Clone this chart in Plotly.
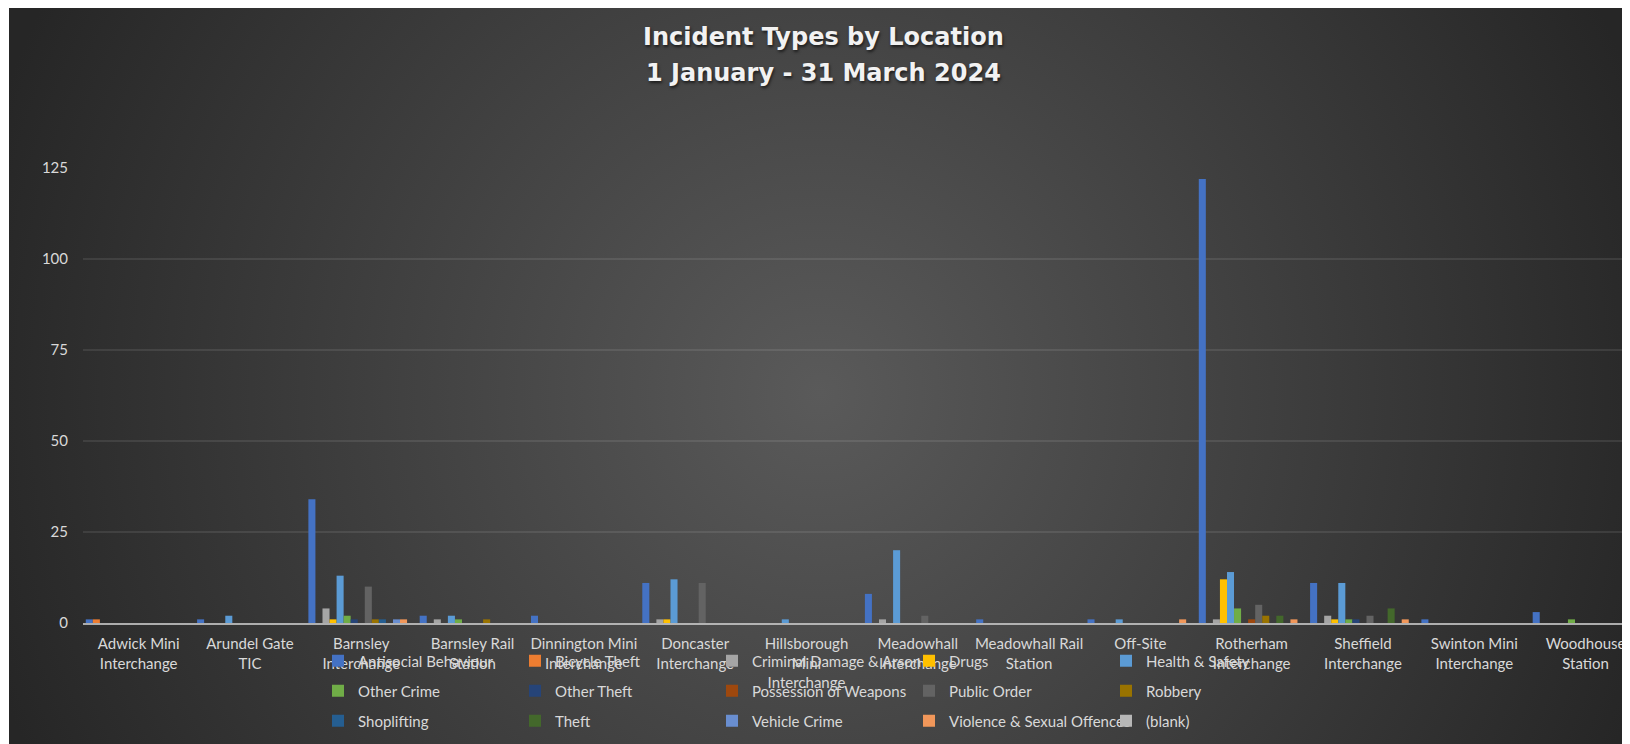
import base64
import plotly.graph_objects as go

categories = [
    "Adwick Mini Interchange", "Arundel Gate TIC", "Barnsley Interchange",
    "Barnsley Rail Station", "Dinnington Mini Interchange", "Doncaster Interchange",
    "Hillsborough Mini Interchange", "Meadowhall Interchange", "Meadowhall Rail Station",
    "Off-Site", "Rotherham Interchange", "Sheffield Interchange",
    "Swinton Mini Interchange", "Woodhouse Station",
]
tick_labels = [
    "Adwick Mini<br>Interchange", "Arundel Gate<br>TIC", "Barnsley<br>Interchange",
    "Barnsley Rail<br>Station", "Dinnington Mini<br>Interchange", "Doncaster<br>Interchange",
    "Hillsborough<br>Mini<br>Interchange", "Meadowhall<br>Interchange", "Meadowhall Rail<br>Station",
    "Off-Site", "Rotherham<br>Interchange", "Sheffield<br>Interchange",
    "Swinton Mini<br>Interchange", "Woodhouse<br>Station",
]

# values per category, in category order
antisocial_behaviour = [1, 1, 34, 2, 2, 11, 0, 8, 1, 1, 122, 11, 1, 3]
bicycle_theft        = [1, 0, 0, 0, 0, 0, 0, 0, 0, 0, 0, 0, 0, 0]
criminal_damage      = [0, 0, 4, 1, 0, 1, 0, 1, 0, 0, 1, 2, 0, 0]
drugs                = [0, 0, 1, 0, 0, 1, 0, 0, 0, 0, 12, 1, 0, 0]
health_safety        = [0, 2, 13, 2, 0, 12, 1, 20, 0, 1, 14, 11, 0, 0]
other_crime          = [0, 0, 2, 1, 0, 0, 0, 0, 0, 0, 4, 1, 0, 1]
other_theft          = [0, 0, 1, 0, 0, 0, 0, 0, 0, 0, 0, 1, 0, 0]
possession_weapons   = [0, 0, 0, 0, 0, 0, 0, 0, 0, 0, 1, 0, 0, 0]
public_order         = [0, 0, 10, 0, 0, 11, 0, 2, 0, 0, 5, 2, 0, 0]
robbery              = [0, 0, 1, 1, 0, 0, 0, 0, 0, 0, 2, 0, 0, 0]
shoplifting          = [0, 0, 1, 0, 0, 0, 0, 0, 0, 0, 0, 0, 0, 0]
theft                = [0, 0, 0, 0, 0, 0, 0, 0, 0, 0, 2, 4, 0, 0]
vehicle_crime        = [0, 0, 1, 0, 0, 0, 0, 0, 0, 0, 0, 0, 0, 0]
violence_sexual      = [0, 0, 1, 0, 0, 0, 0, 0, 0, 1, 1, 1, 0, 0]
blank                = [0, 0, 0, 0, 0, 0, 0, 0, 0, 0, 0, 0, 0, 0]

series_names = [
    "Antisocial Behaviour", "Bicycle Theft", "Criminal Damage & Arson", "Drugs",
    "Health & Safety", "Other Crime", "Other Theft", "Possession of Weapons",
    "Public Order", "Robbery", "Shoplifting", "Theft", "Vehicle Crime",
    "Violence & Sexual Offences", "(blank)",
]
series_values = [
    antisocial_behaviour, bicycle_theft, criminal_damage, drugs, health_safety,
    other_crime, other_theft, possession_weapons, public_order, robbery,
    shoplifting, theft, vehicle_crime, violence_sexual, blank,
]
series_colors = [
    "#4472C4", "#ED7D31", "#A5A5A5", "#FFC000", "#5B9BD5", "#70AD47",
    "#264478", "#9E480E", "#636363", "#997300", "#255E91", "#43682B",
    "#698ED0", "#F1975A", "#B7B7B7",
]
legend_rows = ["legend", "legend2", "legend3"]

# page has an 8px body margin; work in page pixels and convert
OFF = 8
PAGE_W, PAGE_H = 1630, 744
W, H = PAGE_W - OFF, PAGE_H - OFF
plot_left_page, plot_top_page, zero_page = 83, 168, 623
ML = plot_left_page - OFF
MT = plot_top_page - OFF
MB = H - (zero_page - OFF)
MR = 0
PW, PH = W - ML - MR, H - MT - MB
cat_w = 111.3

fig = go.Figure()
for i, (name, vals, col) in enumerate(zip(series_names, series_values, series_colors)):
    fig.add_trace(go.Bar(
        x=categories, y=vals, name=name,
        marker=dict(color=col, line=dict(width=0)),
        legend=legend_rows[i // 5],
    ))

def px(xpage):
    return (xpage - OFF - ML) / PW

def py(ypage):
    return (H - MB - (ypage - OFF)) / PH

# background gradient image (page coords: starts at x=9)
bx0_fig, by0_fig = 1, 0
bw, bh = W - bx0_fig, H - by0_fig
cxg, cyg = 820 - OFF - bx0_fig, 394 - OFF - by0_fig
svg = (
    f'<svg xmlns="http://www.w3.org/2000/svg" width="{bw}" height="{bh}" '
    f'viewBox="0 0 {bw} {bh}" preserveAspectRatio="none"><defs>'
    f'<radialGradient id="g" gradientUnits="userSpaceOnUse" cx="{cxg}" cy="{cyg}" r="870">'
    f'<stop offset="0" stop-color="#5a5a5a"/><stop offset="1" stop-color="#262626"/>'
    f'</radialGradient></defs><rect width="{bw}" height="{bh}" fill="url(#g)"/></svg>'
)
src = "data:image/svg+xml;base64," + base64.b64encode(svg.encode()).decode()

txt = "#D9D9D9"
font_main = "Lato, 'Open Sans', sans-serif"
title_font = dict(family="DejaVu Sans", size=24, color="#F2F2F2", weight="bold",
                  shadow="1px 2px 3px rgba(0,0,0,0.6)")

legend_common = dict(
    orientation="h", xanchor="left", yanchor="middle",
    x=px(318), entrywidth=152, entrywidthmode="pixels",
    bgcolor="rgba(0,0,0,0)", font=dict(family=font_main, size=15, color=txt),
    traceorder="normal",
)

fig.update_layout(
    width=W, height=H,
    margin=dict(l=ML, r=MR, t=MT, b=MB, autoexpand=False),
    paper_bgcolor="white",
    plot_bgcolor="rgba(0,0,0,0)",
    barmode="group", bargap=0.05, bargroupgap=0,
    images=[dict(source=src, xref="paper", yref="paper",
                 x=(bx0_fig - ML) / PW, y=(H - MB - by0_fig) / PH,
                 sizex=bw / PW, sizey=bh / PH,
                 xanchor="left", yanchor="top", sizing="stretch", layer="below")],
    annotations=[
        dict(text="Incident Types by Location", showarrow=False,
             xref="paper", yref="paper", x=px(823), y=py(37),
             xanchor="center", yanchor="middle", font=title_font),
        dict(text="1 January - 31 March 2024", showarrow=False,
             xref="paper", yref="paper", x=px(823), y=py(73),
             xanchor="center", yanchor="middle", font=title_font),
    ],
    xaxis=dict(
        type="category", categoryorder="array", categoryarray=categories,
        tickmode="array", tickvals=categories, ticktext=tick_labels,
        range=[-0.5, PW / cat_w - 0.5],
        showline=True, linecolor="rgba(205,205,205,0.8)", linewidth=2,
        showgrid=False, ticks="", ticklabelstandoff=6,
        tickfont=dict(family=font_main, size=15, color=txt),
        automargin=False, fixedrange=True,
    ),
    yaxis=dict(
        range=[0, 125], dtick=25, tick0=0,
        showgrid=True, gridcolor="rgba(255,255,255,0.09)", gridwidth=1.5,
        zeroline=False, showline=False, ticks="", ticklabelstandoff=14,
        tickfont=dict(family=font_main, size=15, color=txt),
        automargin=False, fixedrange=True,
    ),
    legend=dict(legend_common, y=py(661)),
    legend2=dict(legend_common, y=py(691)),
    legend3=dict(legend_common, y=py(721)),
    showlegend=True,
)

fig.write_html("out.html")
